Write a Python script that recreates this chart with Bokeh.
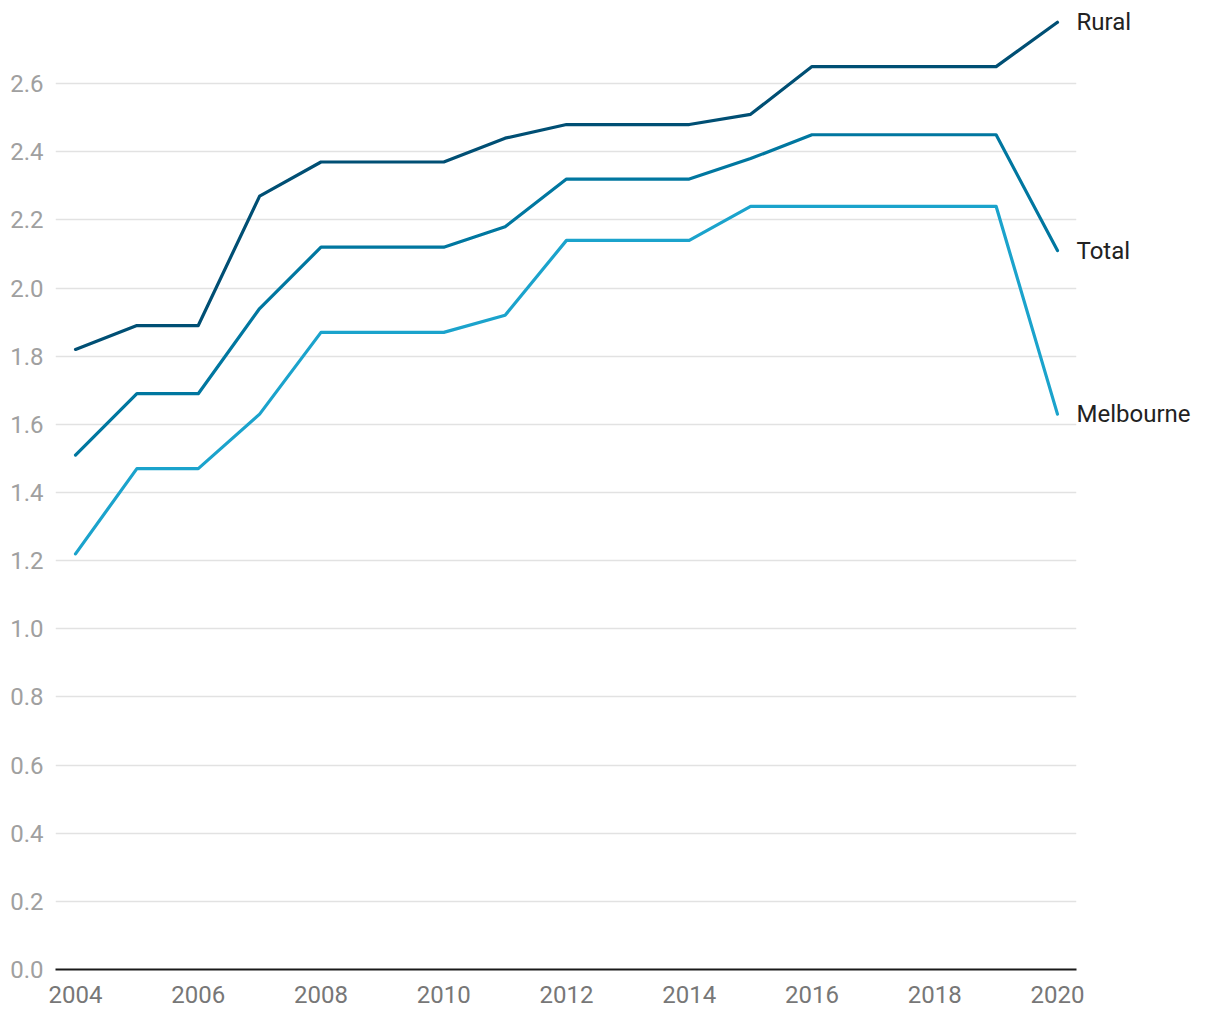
from bokeh.plotting import figure
from bokeh.models import Range1d, FixedTicker, PrintfTickFormatter, LinearAxis
from bokeh.embed import file_html
from bokeh.resources import INLINE

years = list(range(2004, 2021))
rural = [1.82, 1.89, 1.89, 2.27, 2.37, 2.37, 2.37, 2.44, 2.48, 2.48, 2.48, 2.51, 2.65, 2.65, 2.65, 2.65, 2.78]
total = [1.51, 1.69, 1.69, 1.94, 2.12, 2.12, 2.12, 2.18, 2.32, 2.32, 2.32, 2.38, 2.45, 2.45, 2.45, 2.45, 2.11]
melbourne = [1.22, 1.47, 1.47, 1.63, 1.87, 1.87, 1.87, 1.92, 2.14, 2.14, 2.14, 2.24, 2.24, 2.24, 2.24, 2.24, 1.63]
series_names = ["Rural", "Total", "Melbourne"]
series_colors = ["#004f74", "#0077a0", "#1ba3cc"]
x_ticks = list(range(2004, 2021, 2))
y_ticks = [round(0.2 * i, 1) for i in range(14)]

p = figure(width=1215, height=1013, output_backend="svg", toolbar_location=None,
           x_range=Range1d(2003.674, 2020.31), y_range=Range1d(0, 2.8),
           min_border_left=55, min_border_right=139, min_border_top=15, min_border_bottom=44)
p.outline_line_color = None
p.background_fill_color = "white"

series = [rural, total, melbourne]
for vals, col in zip(series, series_colors):
    p.line(years, vals, line_color=col, line_width=3.2, line_join="round", line_cap="round")

# end-of-line labels as a right-side axis whose ticks sit at each series' last value
ends = [vals[-1] for vals in series]
label_axis = LinearAxis(ticker=FixedTicker(ticks=ends))
label_axis.major_label_overrides = {v: n for v, n in zip(ends, series_names)}
label_axis.axis_line_color = None
label_axis.major_tick_line_color = None
label_axis.minor_tick_line_color = None
label_axis.major_label_standoff = -6
label_axis.major_label_text_font = "Roboto"
label_axis.major_label_text_font_size = "24px"
label_axis.major_label_text_color = "#222222"
p.add_layout(label_axis, "right")

p.xaxis.ticker = FixedTicker(ticks=x_ticks)
p.yaxis[0].ticker = FixedTicker(ticks=y_ticks)
p.yaxis[0].formatter = PrintfTickFormatter(format="%.1f")
p.xgrid.grid_line_color = None
p.ygrid.grid_line_color = "#e2e2e2"
p.ygrid.grid_line_width = 1.5

p.xaxis.axis_line_color = "#1a1a1a"
p.xaxis.axis_line_width = 2
p.xaxis.major_tick_line_color = None
p.xaxis.minor_tick_line_color = None
p.xaxis.major_label_text_font = "Roboto"
p.xaxis.major_label_text_font_size = "24px"
p.xaxis.major_label_text_color = "#777777"
p.xaxis.major_label_standoff = 10

ya = p.yaxis[0]
ya.axis_line_color = None
ya.major_tick_line_color = None
ya.minor_tick_line_color = None
ya.major_label_text_font = "Roboto"
ya.major_label_text_font_size = "24px"
ya.major_label_text_color = "#a0a0a0"
ya.major_label_standoff = 6

open("out.html", "w").write(file_html(p, INLINE))
